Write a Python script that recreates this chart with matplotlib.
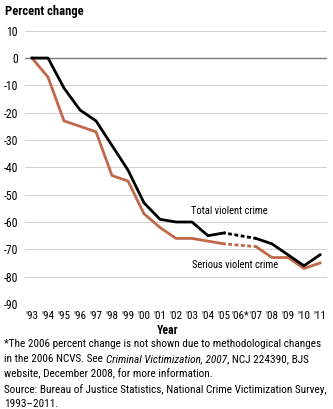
import numpy as np
import matplotlib
matplotlib.use("Agg")
from matplotlib import pyplot as plt

plt.rcParams['font.family'] = ['Roboto Condensed', 'Liberation Sans Narrow', 'Roboto', 'DejaVu Sans']
plt.rcParams['axes.unicode_minus'] = False

years = [1993, 1994, 1995, 1996, 1997, 1998, 1999, 2000, 2001, 2002, 2003,
         2004, 2005, 2006, 2007, 2008, 2009, 2010, 2011]
tick_labels = ["'93", "'94", "'95", "'96", "'97", "'98", "'99", "'00", "'01", "'02",
               "'03", "'04", "'05", "'06*", "'07", "'08", "'09", "'10", "'11"]
total_violent = [0, 0, -11, -19, -23, -32, -41, -53, -59, -60, -60,
                 -65, -64, np.nan, -66, -68, -72, -76, -72]
serious_violent = [0, -7, -23, -25, -27, -43, -45, -57, -62, -66, -66,
                   -67, -68, np.nan, -69, -73, -73, -77, -75]

black = '#000000'
brown = '#C0684A'

fig = plt.figure(figsize=(3.33, 4.09), dpi=100)
ax = fig.add_axes([25/333, 1 - 304/409, 302/333, (304 - 30.7)/409])

x = np.array(years, dtype=float)
tv = np.array(total_violent, dtype=float)
sv = np.array(serious_violent, dtype=float)

# gridlines
for v in range(-90, 11, 10):
    ax.axhline(v, color='#7a7a7a' if v == 0 else '#c8c8c8',
               lw=1.0 if v == 0 else 0.6, zorder=1)

# solid parts
ax.plot(x, sv, color=brown, lw=2.0, zorder=3)
ax.plot(x, tv, color=black, lw=2.0, zorder=4)

# dotted bridge over the 2006 gap
gap = [12, 14]
ax.plot(x[gap], sv[gap], color=brown, lw=2.0, ls=(0.8, (1.4, 0.9)), zorder=3)
ax.plot(x[gap], tv[gap], color=black, lw=2.0, ls=(0.8, (1.4, 0.9)), zorder=4)

ax.set_xlim(1993 - 7/16, 2011 + 7/16)
ax.set_ylim(-90, 10)
ax.set_yticks(range(-90, 11, 10))
ax.set_xticks(years)
ax.set_xticklabels(tick_labels)
ax.tick_params(length=0, pad=4)
ax.tick_params(axis='x', labelsize=8, pad=5)
ax.tick_params(axis='y', labelsize=8.5, pad=5)
for s in ax.spines.values():
    s.set_visible(False)

ax.text(2005.35, -56, 'Total violent crime', fontsize=7.6, ha='center', va='center')
ax.text(2005.7, -75.8, 'Serious violent crime', fontsize=7.6, ha='center', va='center')

fig.text(5/333, 1 - 11/409, 'Percent change', fontsize=9, fontweight='bold',
         va='center', ha='left')
fig.text(168/333, 1 - 330/409, 'Year', fontsize=8.5, fontweight='bold',
         va='center', ha='center')

# footnotes, with the italic title inline
fs = 8.1
fig.text(4/333, 1 - 344/409,
         '*The 2006 percent change is not shown due to methodological changes',
         fontsize=fs, va='center')
fig.canvas.draw()
r = fig.canvas.get_renderer()
y2 = 1 - 359/409
t1 = fig.text(4/333, y2, 'in the 2006 NCVS. See ', fontsize=fs, va='center')
bb = t1.get_window_extent(r)
t2 = fig.text(bb.x1/fig.bbox.width, y2, 'Criminal Victimization, 2007', fontsize=fs,
              va='center', style='italic')
bb = t2.get_window_extent(r)
fig.text(bb.x1/fig.bbox.width, y2, ', NCJ 224390, BJS', fontsize=fs, va='center')
fig.text(4/333, 1 - 374/409, 'website, December 2008, for more information.',
         fontsize=fs, va='center')
fig.text(4/333, 1 - 390/409,
         'Source: Bureau of Justice Statistics, National Crime Victimization Survey,',
         fontsize=fs, va='center')
fig.text(4/333, 1 - 404/409, '1993\u20132011.', fontsize=fs, va='center')

fig.savefig('out.png', dpi=100)
